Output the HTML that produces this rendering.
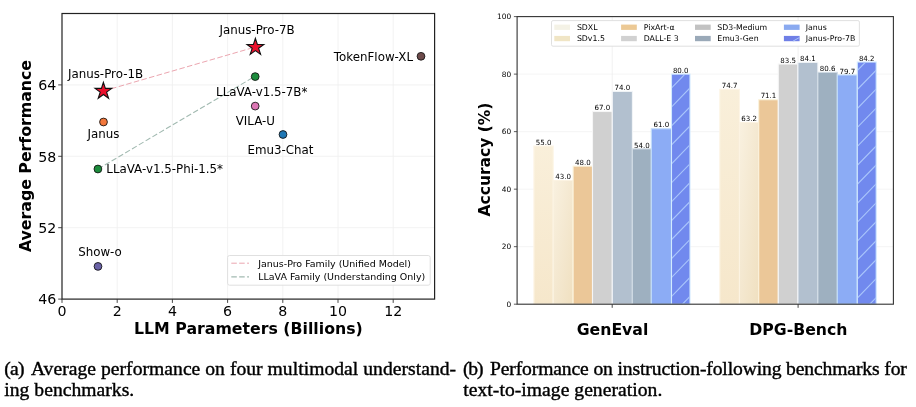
<!DOCTYPE html>
<html><head><meta charset="utf-8"><title>Figure</title>
<style>
html,body{margin:0;padding:0;background:#fff;}
body{width:916px;height:407px;overflow:hidden;position:relative;}
svg{position:absolute;left:0;top:0;display:block;}
svg text{font-family:"DejaVu Sans","Liberation Sans",sans-serif;fill:#000;}
.cap{position:absolute;font-family:"Liberation Serif",serif;font-size:19.6px;line-height:20px;height:20px;color:#000;white-space:nowrap;margin:0;-webkit-text-stroke:0.4px #000;}
</style></head><body>
<svg width="916" height="407" viewBox="0 0 916 407">
<defs><linearGradient id="g1" x1="0" y1="0" x2="0" y2="1"><stop offset="0" stop-color="#f9efda"/><stop offset="1" stop-color="#f6e7cb"/></linearGradient><linearGradient id="g2" x1="0" y1="0" x2="1" y2="1"><stop offset="0" stop-color="#f9f1e0"/><stop offset="0.5" stop-color="#f4e8d0"/><stop offset="1" stop-color="#f0e0c0"/></linearGradient></defs>

<line x1="117.20" y1="13.5" x2="117.20" y2="299.1" stroke="#efefef" stroke-width="0.8"/>
<line x1="172.40" y1="13.5" x2="172.40" y2="299.1" stroke="#efefef" stroke-width="0.8"/>
<line x1="227.60" y1="13.5" x2="227.60" y2="299.1" stroke="#efefef" stroke-width="0.8"/>
<line x1="282.80" y1="13.5" x2="282.80" y2="299.1" stroke="#efefef" stroke-width="0.8"/>
<line x1="338.00" y1="13.5" x2="338.00" y2="299.1" stroke="#efefef" stroke-width="0.8"/>
<line x1="393.20" y1="13.5" x2="393.20" y2="299.1" stroke="#efefef" stroke-width="0.8"/>
<line x1="62.0" y1="227.70" x2="434.6" y2="227.70" stroke="#efefef" stroke-width="0.8"/>
<line x1="62.0" y1="156.30" x2="434.6" y2="156.30" stroke="#efefef" stroke-width="0.8"/>
<line x1="62.0" y1="84.90" x2="434.6" y2="84.90" stroke="#efefef" stroke-width="0.8"/>
<line x1="103.5" y1="91" x2="255.3" y2="47" stroke="#eaa0ab" stroke-width="0.95" stroke-dasharray="5.5,2.4"/>
<line x1="98" y1="169" x2="255" y2="76.3" stroke="#a2bab1" stroke-width="1.1" stroke-dasharray="5.5,2.4"/>
<rect x="62.0" y="13.5" width="372.60" height="285.60" fill="none" stroke="#222" stroke-width="1.2"/>
<line x1="62.00" y1="299.1" x2="62.00" y2="302.90000000000003" stroke="#333" stroke-width="0.9"/>
<text x="62.00" y="315.5" font-size="14.2" text-anchor="middle">0</text>
<line x1="117.20" y1="299.1" x2="117.20" y2="302.90000000000003" stroke="#333" stroke-width="0.9"/>
<text x="117.20" y="315.5" font-size="14.2" text-anchor="middle">2</text>
<line x1="172.40" y1="299.1" x2="172.40" y2="302.90000000000003" stroke="#333" stroke-width="0.9"/>
<text x="172.40" y="315.5" font-size="14.2" text-anchor="middle">4</text>
<line x1="227.60" y1="299.1" x2="227.60" y2="302.90000000000003" stroke="#333" stroke-width="0.9"/>
<text x="227.60" y="315.5" font-size="14.2" text-anchor="middle">6</text>
<line x1="282.80" y1="299.1" x2="282.80" y2="302.90000000000003" stroke="#333" stroke-width="0.9"/>
<text x="282.80" y="315.5" font-size="14.2" text-anchor="middle">8</text>
<line x1="338.00" y1="299.1" x2="338.00" y2="302.90000000000003" stroke="#333" stroke-width="0.9"/>
<text x="338.00" y="315.5" font-size="14.2" text-anchor="middle">10</text>
<line x1="393.20" y1="299.1" x2="393.20" y2="302.90000000000003" stroke="#333" stroke-width="0.9"/>
<text x="393.20" y="315.5" font-size="14.2" text-anchor="middle">12</text>
<line x1="58.2" y1="299.10" x2="62.0" y2="299.10" stroke="#333" stroke-width="0.9"/>
<text x="56.2" y="304.40" font-size="14.2" text-anchor="end">46</text>
<line x1="58.2" y1="227.70" x2="62.0" y2="227.70" stroke="#333" stroke-width="0.9"/>
<text x="56.2" y="233.00" font-size="14.2" text-anchor="end">52</text>
<line x1="58.2" y1="156.30" x2="62.0" y2="156.30" stroke="#333" stroke-width="0.9"/>
<text x="56.2" y="161.60" font-size="14.2" text-anchor="end">58</text>
<line x1="58.2" y1="84.90" x2="62.0" y2="84.90" stroke="#333" stroke-width="0.9"/>
<text x="56.2" y="90.20" font-size="14.2" text-anchor="end">64</text>
<text x="248.4" y="334.3" font-size="15.75" font-weight="bold" text-anchor="middle" fill="#111">LLM Parameters (Billions)</text>
<text transform="translate(30.6,156) rotate(-90)" font-size="15.75" font-weight="bold" text-anchor="middle" fill="#111">Average Performance</text>
<circle cx="103.5" cy="122" r="3.9" fill="#f2773b" stroke="#111" stroke-width="0.85"/>
<circle cx="97.9" cy="169" r="3.9" fill="#1c8c3c" stroke="#111" stroke-width="0.85"/>
<circle cx="255.2" cy="76.6" r="3.9" fill="#1c8c3c" stroke="#111" stroke-width="0.85"/>
<circle cx="255.2" cy="106.1" r="3.9" fill="#dc76b4" stroke="#111" stroke-width="0.85"/>
<circle cx="283" cy="134.5" r="3.9" fill="#1f77b4" stroke="#111" stroke-width="0.85"/>
<circle cx="421" cy="56.3" r="3.9" fill="#6d4b4b" stroke="#111" stroke-width="0.85"/>
<circle cx="98.0" cy="266.4" r="3.9" fill="#6a62a6" stroke="#111" stroke-width="0.85"/>
<polygon points="103.40,82.30 105.38,88.38 111.77,88.38 106.60,92.14 108.57,98.22 103.40,94.46 98.23,98.22 100.20,92.14 95.03,88.38 101.42,88.38" fill="#ea102c" stroke="#111" stroke-width="1.1" stroke-linejoin="miter"/>
<polygon points="255.40,38.40 257.38,44.48 263.77,44.48 258.60,48.24 260.57,54.32 255.40,50.56 250.23,54.32 252.20,48.24 247.03,44.48 253.42,44.48" fill="#ea102c" stroke="#111" stroke-width="1.1" stroke-linejoin="miter"/>
<text x="257" y="34" font-size="11.85" text-anchor="middle">Janus-Pro-7B</text>
<text x="105.5" y="78.2" font-size="11.85" text-anchor="middle">Janus-Pro-1B</text>
<text x="103.4" y="138.4" font-size="11.85" text-anchor="middle">Janus</text>
<text x="106.3" y="173.4" font-size="11.85" text-anchor="start">LLaVA-v1.5-Phi-1.5*</text>
<text x="261.7" y="95.5" font-size="11.85" text-anchor="middle">LLaVA-v1.5-7B*</text>
<text x="255.3" y="125" font-size="11.85" text-anchor="middle">VILA-U</text>
<text x="280.5" y="153.7" font-size="11.85" text-anchor="middle">Emu3-Chat</text>
<text x="413" y="60.6" font-size="11.85" text-anchor="end">TokenFlow-XL</text>
<text x="100.0" y="256.4" font-size="11.85" text-anchor="middle">Show-o</text>
<rect x="227.6" y="255.5" width="202.6" height="29.7" rx="2" ry="2" fill="#fff" fill-opacity="0.9" stroke="#dddddd" stroke-width="0.9"/>
<line x1="231.3" y1="263.2" x2="249" y2="263.2" stroke="#eaa0ab" stroke-width="0.95" stroke-dasharray="5.5,2.4"/>
<line x1="231.3" y1="276.9" x2="249" y2="276.9" stroke="#a2bab1" stroke-width="1.1" stroke-dasharray="5.5,2.4"/>
<text x="258.2" y="266.6" font-size="9.48">Janus-Pro Family (Unified Model)</text>
<text x="258.2" y="280.3" font-size="9.48">LLaVA Family (Understanding Only)</text>
<line x1="517.1" y1="246.68" x2="893.4" y2="246.68" stroke="#f2f2f2" stroke-width="0.8"/>
<line x1="517.1" y1="189.16" x2="893.4" y2="189.16" stroke="#f2f2f2" stroke-width="0.8"/>
<line x1="517.1" y1="131.64" x2="893.4" y2="131.64" stroke="#f2f2f2" stroke-width="0.8"/>
<line x1="517.1" y1="74.12" x2="893.4" y2="74.12" stroke="#f2f2f2" stroke-width="0.8"/>
<line x1="612.2" y1="16.6" x2="612.2" y2="304.2" stroke="#eeeeee" stroke-width="0.8"/>
<line x1="798.1" y1="16.6" x2="798.1" y2="304.2" stroke="#eeeeee" stroke-width="0.8"/>
<rect x="533.90" y="146.02" width="19.30" height="158.18" fill="url(#g1)" stroke="#fdf5e6" stroke-width="1.1"/>
<text x="543.55" y="144.72" font-size="7.05" text-anchor="middle">55.0</text>
<rect x="553.20" y="180.53" width="19.90" height="123.67" fill="url(#g2)" stroke="#fcf3e2" stroke-width="1.1"/>
<text x="563.15" y="179.23" font-size="7.05" text-anchor="middle">43.0</text>
<rect x="573.10" y="166.15" width="19.40" height="138.05" fill="#ebc798" stroke="#fbf3dc" stroke-width="1.1"/>
<text x="582.80" y="164.85" font-size="7.05" text-anchor="middle">48.0</text>
<rect x="592.50" y="111.51" width="19.80" height="192.69" fill="#d0d0d0" stroke="#f6f6f6" stroke-width="1.1"/>
<text x="602.40" y="110.21" font-size="7.05" text-anchor="middle">67.0</text>
<rect x="612.30" y="91.38" width="20.10" height="212.82" fill="#b2c0cf" stroke="#f2f5f8" stroke-width="1.1"/>
<text x="622.35" y="90.08" font-size="7.05" text-anchor="middle">74.0</text>
<rect x="632.40" y="148.90" width="18.90" height="155.30" fill="#9eb0c0" stroke="#cfdae4" stroke-width="1.1"/>
<text x="641.85" y="147.60" font-size="7.05" text-anchor="middle">54.0</text>
<rect x="651.30" y="128.76" width="20.20" height="175.44" fill="#8cacf5" stroke="#c4defa" stroke-width="1.1"/>
<text x="661.40" y="127.46" font-size="7.05" text-anchor="middle">61.0</text>
<rect x="671.50" y="74.12" width="18.50" height="230.08" fill="#7189ee" stroke="#d2eaff" stroke-width="1.1"/>
<text x="680.75" y="72.82" font-size="7.05" text-anchor="middle">80.0</text>
<clipPath id="clip0"><rect x="672.10" y="74.62" width="17.50" height="229.58"/></clipPath>
<path d="M669.50,33.23L692.00,10.06M669.50,52.18L692.00,29.01M669.50,71.13L692.00,47.96M669.50,90.08L692.00,66.91M669.50,109.03L692.00,85.86M669.50,127.98L692.00,104.81M669.50,146.93L692.00,123.76M669.50,165.88L692.00,142.71M669.50,184.83L692.00,161.66M669.50,203.78L692.00,180.61M669.50,222.73L692.00,199.56M669.50,241.68L692.00,218.51M669.50,260.63L692.00,237.46M669.50,279.58L692.00,256.41M669.50,298.53L692.00,275.36M669.50,317.48L692.00,294.31" stroke="#a9c5fb" stroke-width="1.15" fill="none" clip-path="url(#clip0)"/>
<rect x="719.80" y="89.36" width="19.65" height="214.84" fill="url(#g1)" stroke="#fdf5e6" stroke-width="1.1"/>
<text x="729.62" y="88.06" font-size="7.05" text-anchor="middle">74.7</text>
<rect x="739.45" y="122.44" width="19.25" height="181.76" fill="url(#g2)" stroke="#fcf3e2" stroke-width="1.1"/>
<text x="749.08" y="121.14" font-size="7.05" text-anchor="middle">63.2</text>
<rect x="758.70" y="99.72" width="19.60" height="204.48" fill="#ebc798" stroke="#fbf3dc" stroke-width="1.1"/>
<text x="768.50" y="98.42" font-size="7.05" text-anchor="middle">71.1</text>
<rect x="778.30" y="64.05" width="19.60" height="240.15" fill="#d0d0d0" stroke="#f6f6f6" stroke-width="1.1"/>
<text x="788.10" y="62.75" font-size="7.05" text-anchor="middle">83.5</text>
<rect x="797.90" y="62.33" width="20.00" height="241.87" fill="#b2c0cf" stroke="#f2f5f8" stroke-width="1.1"/>
<text x="807.90" y="61.03" font-size="7.05" text-anchor="middle">84.1</text>
<rect x="817.90" y="72.39" width="19.40" height="231.81" fill="#9eb0c0" stroke="#cfdae4" stroke-width="1.1"/>
<text x="827.60" y="71.09" font-size="7.05" text-anchor="middle">80.6</text>
<rect x="837.30" y="74.98" width="20.00" height="229.22" fill="#8cacf5" stroke="#c4defa" stroke-width="1.1"/>
<text x="847.30" y="73.68" font-size="7.05" text-anchor="middle">79.7</text>
<rect x="857.30" y="62.04" width="18.90" height="242.16" fill="#7189ee" stroke="#d2eaff" stroke-width="1.1"/>
<text x="866.75" y="60.74" font-size="7.05" text-anchor="middle">84.2</text>
<clipPath id="clip1"><rect x="857.90" y="62.54" width="17.90" height="241.66"/></clipPath>
<path d="M855.30,15.84L878.20,-7.75M855.30,34.79L878.20,11.20M855.30,53.74L878.20,30.15M855.30,72.69L878.20,49.10M855.30,91.64L878.20,68.05M855.30,110.59L878.20,87.00M855.30,129.54L878.20,105.95M855.30,148.49L878.20,124.90M855.30,167.44L878.20,143.85M855.30,186.39L878.20,162.80M855.30,205.34L878.20,181.75M855.30,224.29L878.20,200.70M855.30,243.24L878.20,219.65M855.30,262.19L878.20,238.60M855.30,281.14L878.20,257.55M855.30,300.09L878.20,276.50M855.30,319.04L878.20,295.45" stroke="#a9c5fb" stroke-width="1.15" fill="none" clip-path="url(#clip1)"/>
<rect x="517.1" y="16.6" width="376.30" height="287.60" fill="none" stroke="#333" stroke-width="1.1"/>
<line x1="513.9" y1="304.20" x2="517.1" y2="304.20" stroke="#333" stroke-width="0.8"/>
<text x="511.2" y="307.00" font-size="7.4" text-anchor="end">0</text>
<line x1="513.9" y1="246.68" x2="517.1" y2="246.68" stroke="#333" stroke-width="0.8"/>
<text x="511.2" y="249.48" font-size="7.4" text-anchor="end">20</text>
<line x1="513.9" y1="189.16" x2="517.1" y2="189.16" stroke="#333" stroke-width="0.8"/>
<text x="511.2" y="191.96" font-size="7.4" text-anchor="end">40</text>
<line x1="513.9" y1="131.64" x2="517.1" y2="131.64" stroke="#333" stroke-width="0.8"/>
<text x="511.2" y="134.44" font-size="7.4" text-anchor="end">60</text>
<line x1="513.9" y1="74.12" x2="517.1" y2="74.12" stroke="#333" stroke-width="0.8"/>
<text x="511.2" y="76.92" font-size="7.4" text-anchor="end">80</text>
<line x1="513.9" y1="16.60" x2="517.1" y2="16.60" stroke="#333" stroke-width="0.8"/>
<text x="511.2" y="19.40" font-size="7.4" text-anchor="end">100</text>
<line x1="612.2" y1="304.2" x2="612.2" y2="307.8" stroke="#333" stroke-width="0.9"/>
<text x="612.5" y="335" font-size="15.7" font-weight="bold" text-anchor="middle" fill="#111">GenEval</text>
<line x1="798.1" y1="304.2" x2="798.1" y2="307.8" stroke="#333" stroke-width="0.9"/>
<text x="798.4" y="335" font-size="15.7" font-weight="bold" text-anchor="middle" fill="#111">DPG-Bench</text>
<text transform="translate(490.3,159.5) rotate(-90)" font-size="15.5" font-weight="bold" text-anchor="middle" fill="#111">Accuracy (%)</text>
<rect x="551.5" y="20.6" width="307.9" height="25.6" rx="1.5" ry="1.5" fill="#fff" fill-opacity="1" stroke="#dcdcdc" stroke-width="0.9"/>
<rect x="554.3" y="24.60" width="15.7" height="5.3" fill="#f4f2e6"/>
<text x="576.9" y="29.90" font-size="7.8">SDXL</text>
<rect x="554.3" y="35.90" width="15.7" height="5.3" fill="#f0e5c5"/>
<text x="576.9" y="41.10" font-size="7.8">SDv1.5</text>
<rect x="621.1" y="24.60" width="15.7" height="5.3" fill="#ecc995"/>
<text x="643.7" y="29.90" font-size="7.8">PixArt-α</text>
<rect x="621.1" y="35.90" width="15.7" height="5.3" fill="#d1d1d1"/>
<text x="643.7" y="41.10" font-size="7.8">DALL-E 3</text>
<rect x="695.0" y="24.60" width="15.7" height="5.3" fill="#c2c2c2"/>
<text x="717.3" y="29.90" font-size="7.8">SD3-Medium</text>
<rect x="695.0" y="35.90" width="15.7" height="5.3" fill="#9aa9b8"/>
<text x="717.3" y="41.10" font-size="7.8">Emu3-Gen</text>
<rect x="783.9" y="24.60" width="15.7" height="5.3" fill="#8aaaf0"/>
<text x="805.8" y="29.90" font-size="7.8">Janus</text>
<rect x="783.9" y="35.90" width="15.7" height="5.3" fill="#6f7fe6"/>
<path d="M792.9,41.2 L799.6,37.400000000000006" stroke="#a9c4fb" stroke-width="1" fill="none"/>
<text x="805.8" y="41.10" font-size="7.8">Janus-Pro-7B</text>
</svg>
<span class="cap" style="left:4.3px;top:359.0px;letter-spacing:-0.8px;">(a)</span>
<span class="cap" style="left:30.9px;top:359.0px;letter-spacing:0.035px;">Average performance on four multimodal understand-</span>
<span class="cap" style="left:4.3px;top:380.3px;letter-spacing:0.03px;">ing benchmarks.</span>
<span class="cap" style="left:463px;top:359.0px;letter-spacing:-1.2px;">(b)</span>
<span class="cap" style="left:490px;top:359.0px;letter-spacing:-0.13px;">Performance on instruction-following benchmarks for</span>
<span class="cap" style="left:463.3px;top:380.3px;letter-spacing:0.04px;">text-to-image generation.</span>
</body></html>
